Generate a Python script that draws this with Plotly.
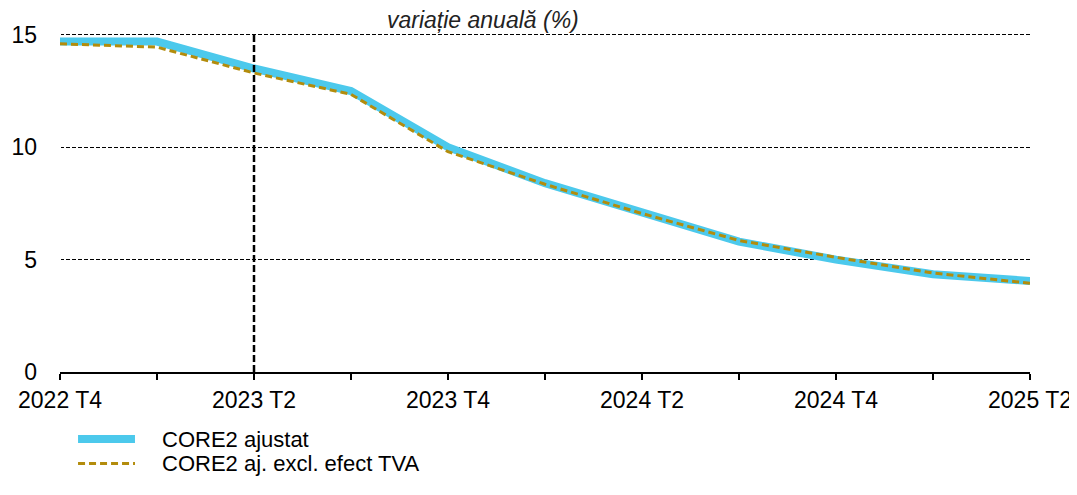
import plotly.graph_objects as go

quarters = ["2022 T4", "2023 T1", "2023 T2", "2023 T3", "2023 T4", "2024 T1",
            "2024 T2", "2024 T3", "2024 T4", "2025 T1", "2025 T2"]
tick_labels = ["2022 T4", "", "2023 T2", "", "2023 T4", "", "2024 T2", "",
               "2024 T4", "", "2025 T2"]
core2_adj = [14.7, 14.7, 13.5, 12.5, 10.0, 8.4, 7.1, 5.8, 5.0, 4.35, 4.05]
core2_excl_vat = [14.6, 14.45, 13.3, 12.35, 9.8, 8.35, 7.05, 5.85, 5.1, 4.4, 3.95]
marker_quarter = "2023 T2"

font = "Liberation Sans, Arial, sans-serif"
idx = list(range(len(quarters)))

series = [
    dict(name="CORE2 ajustat", y=core2_adj,
         line=dict(color="#4cc9ec", width=8)),
    dict(name="CORE2 aj. excl. efect TVA", y=core2_excl_vat,
         line=dict(color="#b38c0c", width=3, dash="7px,4px")),
]

fig = go.Figure()
for s in series:
    fig.add_trace(go.Scatter(x=idx, y=s["y"], mode="lines", name=s["name"],
                             line=s["line"], showlegend=False))

fig.add_shape(type="line", xref="x", yref="y",
              x0=quarters.index(marker_quarter), x1=quarters.index(marker_quarter),
              y0=0, y1=15, line=dict(color="black", width=2.5, dash="7px,3px"),
              layer="above")

fig.add_annotation(text="<i>variație anuală (%)</i>", xref="paper", yref="paper",
                   x=0.436, y=0.995, yanchor="bottom", showarrow=False,
                   font=dict(family=font, size=23, color="#222"))

# legend drawn by hand so the key lines and row spacing match the original
for i, s in enumerate(series):
    ly = -0.198 - i * 0.072
    fig.add_shape(type="line", xref="paper", yref="paper",
                  x0=0.0186, x1=0.0773, y0=ly, y1=ly, line=s["line"])
    fig.add_annotation(text=s["name"], xref="paper", yref="paper",
                       x=0.103, y=ly, xanchor="left", yanchor="middle",
                       showarrow=False,
                       font=dict(family=font, size=22, color="black"))

fig.update_xaxes(
    tickmode="array", tickvals=idx, ticktext=tick_labels,
    range=[0, len(quarters) - 1], showgrid=False, automargin=False,
    showline=True, linecolor="black", linewidth=2,
    ticks="outside", ticklen=6, tickwidth=1.5, tickcolor="black",
    tickfont=dict(family=font, size=23, color="black")
)
fig.update_yaxes(
    range=[0, 15.08], tickvals=[0, 5, 10, 15], automargin=False,
    showgrid=True, gridcolor="black", gridwidth=1, griddash="4px,2px",
    zeroline=False, showline=False, ticks="",
    ticklabelstandoff=22,
    tickfont=dict(family=font, size=23, color="black")
)

fig.update_layout(
    width=1077, height=495,
    margin=dict(l=52, r=55, t=25, b=131),
    plot_bgcolor="white", paper_bgcolor="white",
    showlegend=False,
    font=dict(family=font)
)

fig.write_html("out.html")
